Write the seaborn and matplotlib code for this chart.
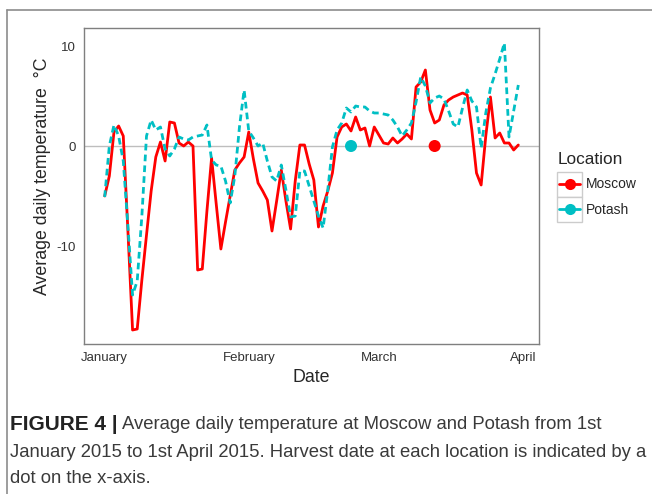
#!/usr/bin/env python

"""
Average daily temperature at Moscow and Potash, Jan-Apr 2015,
with the harvest date of each location marked on the zero line.
"""

import numpy as np
import pandas as pd
import seaborn as sns
import matplotlib.pyplot as plt
from matplotlib.lines import Line2D
from matplotlib.patches import Rectangle

# daily values, starting 1 Jan 2015
start_date = '2015-01-01'
moscow_temp = [-5.0, -3.0, 1.4, 2.0, 1.0, -8.5, -18.4, -18.3, -13.4, -8.9,
               -4.5, -1.1, 0.4, -1.5, 2.4, 2.3, 0.3, 0.0, 0.4, 0.0,
               -12.4, -12.3, -6.5, -1.2, -5.8, -10.3, -7.6, -5.0, -2.4, -1.7,
               -1.1, 1.4, -1.3, -3.7, -4.5, -5.4, -8.5, -5.5, -2.4, -5.5,
               -8.3, -3.5, 0.1, 0.1, -1.8, -3.4, -8.1, -6.0, -4.5, -2.7,
               0.9, 1.9, 2.2, 1.5, 2.9, 1.6, 1.8, 0.0, 1.9, 1.1,
               0.3, 0.2, 0.8, 0.3, 0.7, 1.2, 0.7, 5.9, 6.4, 7.6,
               3.6, 2.3, 2.6, 4.1, 4.6, 4.9, 5.1, 5.3, 5.1, 1.6,
               -2.7, -3.9, 1.0, 4.9, 0.8, 1.3, 0.3, 0.3, -0.4, 0.1]
potash_temp = [-5.1, 0.0, 2.1, 1.0, -1.5, -8.0, -14.9, -13.5, -7.0, 1.0,
               2.6, 1.6, 1.9, -0.3, -1.0, -0.3, 0.9, 0.7, 0.6, 0.9,
               1.0, 1.1, 2.1, -1.4, -1.9, -2.0, -3.5, -5.7, -3.0, 1.9,
               5.6, 1.5, 0.8, 0.0, 0.3, -1.5, -3.1, -3.5, -1.9, -4.4,
               -7.1, -7.0, -2.5, -2.5, -4.0, -5.5, -7.0, -8.2, -4.4, -0.1,
               1.6, 2.3, 3.8, 3.4, 4.0, 3.9, 3.9, 3.5, 3.3, 3.3,
               3.2, 3.1, 2.6, 1.9, 1.0, 1.6, 2.3, 4.4, 6.9, 6.0,
               4.3, 4.8, 5.0, 4.7, 3.5, 2.2, 1.9, 3.8, 5.6, 4.5,
               3.9, -0.2, 3.3, 5.8, 7.2, 8.7, 10.3, 0.9, 3.5, 6.1]
locations = ['Moscow', 'Potash']
harvest_dates = ['2015-03-13', '2015-02-23']
month_ticks = ['2015-01-01', '2015-02-01', '2015-03-01', '2015-04-01']
month_labels = ['January', 'February', 'March', 'April']
y_ticks = [-10, 0, 10]

colours = {'Moscow': '#FF0000', 'Potash': '#00BFC4'}

W, H = 652, 494


def fx(px):
    return px / W


def fy(py):
    return 1 - py / H


def main():
    sns.set_style('white')
    plt.rcParams['font.family'] = ['Liberation Sans', 'DejaVu Sans']
    plt.rcParams['axes.unicode_minus'] = False

    n = len(moscow_temp)
    dates = pd.date_range(start_date, periods=n, freq='D')
    df = pd.DataFrame({
        'Date': np.concatenate([dates.values, dates.values]),
        'Temp': moscow_temp + potash_temp,
        'Location': ['Moscow'] * n + ['Potash'] * len(potash_temp),
    })
    harvest = pd.DataFrame({
        'Date': pd.to_datetime(harvest_dates),
        'Temp': [0.0, 0.0],
        'Location': locations,
    })

    fig = plt.figure(figsize=(W / 100, H / 100), dpi=100)
    ax = fig.add_axes([fx(84), fy(344), fx(539) - fx(84), fy(28) - fy(344)])

    ax.axhline(0, color='#BEBEBE', lw=1, zorder=0)
    sns.lineplot(data=df, x='Date', y='Temp', hue='Location', style='Location',
                 palette=colours, dashes={'Moscow': '', 'Potash': (2.4, 1.5)},
                 linewidth=2.0, legend=False, ax=ax)
    sns.scatterplot(data=harvest, x='Date', y='Temp', hue='Location',
                    palette=colours, s=75, edgecolor='none', legend=False,
                    ax=ax, zorder=3)

    t0 = pd.Timestamp(start_date)
    ax.set_xlim(t0 - pd.Timedelta(days=4.45), t0 + pd.Timedelta(days=93.45))
    ax.set_ylim(-19.8, 11.8)
    ax.set_xticks(pd.to_datetime(month_ticks))
    ax.set_xticklabels(month_labels)
    ax.set_yticks(y_ticks)
    ax.set_yticklabels([str(v) for v in y_ticks])

    for s in ax.spines.values():
        s.set_color('#7F7F7F')
        s.set_linewidth(1.0)
    ax.tick_params(length=4, width=0.8, color='#333333', labelcolor='#333333',
                   labelsize=9.5, pad=2)
    ax.set_xlabel('Date', fontsize=12.8, labelpad=3)
    ax.set_ylabel('Average daily temperature  \u00b0C', fontsize=12.8)
    ax.yaxis.set_label_coords(-0.073, 0.53)

    # legend drawn by hand so the keys get ggplot style boxes
    fig.text(fx(558), fy(159), 'Location', fontsize=12.4, va='center', ha='left')
    for i, loc in enumerate(locations):
        top = 172 + i * 25
        fig.patches.append(Rectangle((fx(557), fy(top + 25)), fx(582) - fx(557),
                                     fy(top) - fy(top + 25), transform=fig.transFigure,
                                     facecolor='white', edgecolor='#CCCCCC', lw=1))
        yc = fy(top + 12.5)
        fig.lines.append(Line2D([fx(559), fx(580)], [yc, yc], transform=fig.transFigure,
                                color=colours[loc], lw=2.0))
        fig.lines.append(Line2D([fx(569.5)], [yc], transform=fig.transFigure,
                                marker='o', ms=8, color=colours[loc], mec='none'))
        fig.text(fx(586), yc, loc, fontsize=10, va='center', ha='left')

    # outer frame of the figure panel
    fig.lines.append(Line2D([fx(7), fx(652)], [fy(10), fy(10)], transform=fig.transFigure,
                            color='#8C8C8C', lw=1.2))
    fig.lines.append(Line2D([fx(7), fx(7)], [fy(10), fy(494)], transform=fig.transFigure,
                            color='#8C8C8C', lw=1.2))

    # caption
    renderer = fig.canvas.get_renderer()
    cap_kw = dict(fontsize=13.3, va='center', ha='left', color='#3A3A3A')
    bold = fig.text(fx(10), fy(424), 'FIGURE 4 |', fontweight='bold',
                    fontsize=15, va='center', ha='left', color='#222222')
    bb = bold.get_window_extent(renderer)
    fig.text(bb.x1 / W + fx(4), fy(424),
             'Average daily temperature at Moscow and Potash from 1st', **cap_kw)
    fig.text(fx(10), fy(452),
             'January 2015 to 1st April 2015. Harvest date at each location is indicated by a',
             **cap_kw)
    fig.text(fx(10), fy(478), 'dot on the x-axis.', **cap_kw)

    fig.savefig('out.png', dpi=100)


if __name__ == '__main__':
    main()
